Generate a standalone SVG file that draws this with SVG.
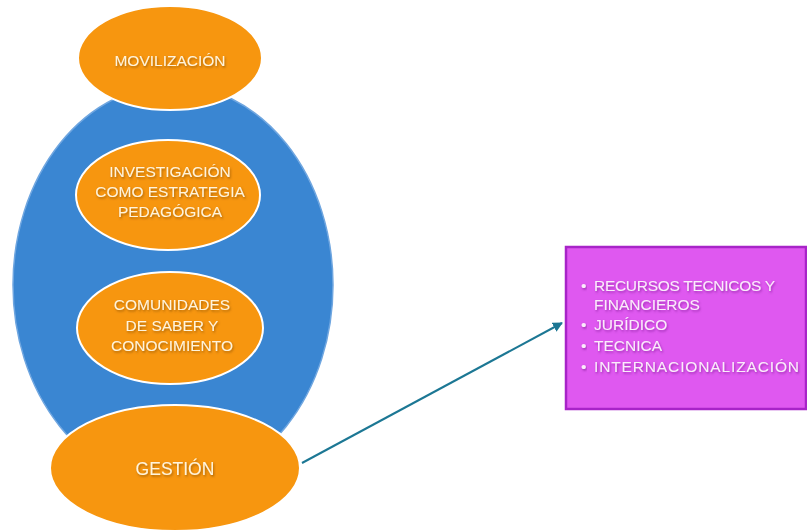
<svg xmlns="http://www.w3.org/2000/svg" width="807" height="531" viewBox="0 0 807 531">
<defs>
<filter id="ts" x="-10%" y="-30%" width="120%" height="160%">
<feDropShadow dx="1" dy="1.5" stdDeviation="1" flood-color="#6a3a00" flood-opacity="0.55"/>
</filter>
<filter id="tsp" x="-10%" y="-30%" width="120%" height="160%">
<feDropShadow dx="1" dy="1.5" stdDeviation="1" flood-color="#5a1070" flood-opacity="0.5"/>
</filter>
<marker id="ah" viewBox="0 0 10 10" refX="9" refY="5" markerWidth="5" markerHeight="5" orient="auto">
<path d="M0,0 L10,5 L0,10 z" fill="#1c7794"/>
</marker>
</defs>
<style>
.orange{fill:#f7960f;stroke:#ffffff;stroke-width:2}
.lbl{font-family:"Liberation Sans","DejaVu Sans",sans-serif;font-size:15.5px;fill:#fff4dc;text-anchor:middle;filter:url(#ts)}
.lst{font-family:"Liberation Sans","DejaVu Sans",sans-serif;font-size:15.5px;fill:#fbecfb;filter:url(#tsp)}
</style>
<rect width="807" height="531" fill="#ffffff"/>
<g id="container">
<ellipse cx="173" cy="285" rx="160" ry="200" fill="#3a86d2" stroke="#6fa6e0" stroke-width="1.5"/>
</g>
<g id="movilizacion">
<ellipse class="orange" cx="170" cy="58" rx="92" ry="52"/>
<text class="lbl" x="170" y="66">MOVILIZACIÓN</text>
</g>
<g id="investigacion">
<ellipse class="orange" cx="168" cy="195" rx="92" ry="55"/>
<text class="lbl" x="170" y="177">INVESTIGACIÓN</text>
<text class="lbl" x="170" y="197">COMO ESTRATEGIA</text>
<text class="lbl" x="170" y="217">PEDAGÓGICA</text>
</g>
<g id="comunidades">
<ellipse class="orange" cx="170" cy="328" rx="93" ry="56"/>
<text class="lbl" x="172" y="310">COMUNIDADES</text>
<text class="lbl" x="172" y="331">DE SABER Y</text>
<text class="lbl" x="172" y="351">CONOCIMIENTO</text>
</g>
<g id="gestion">
<ellipse class="orange" cx="175" cy="468" rx="125" ry="63"/>
<text class="lbl" x="175" y="475" style="font-size:17.5px">GESTIÓN</text>
</g>
<g id="connectors">
<line x1="302" y1="463" x2="562" y2="323" stroke="#1c7794" stroke-width="2" marker-end="url(#ah)"/>
</g>
<g id="recursos">
<rect x="566" y="247" width="240" height="162" fill="#df58f0" stroke="#a824c8" stroke-width="2.5"/>
<text class="lst" x="581" y="291">•</text>
<text class="lst" x="594" y="291" textLength="181">RECURSOS TECNICOS Y</text>
<text class="lst" x="594" y="310">FINANCIEROS</text>
<text class="lst" x="581" y="330">•</text>
<text class="lst" x="594" y="330">JURÍDICO</text>
<text class="lst" x="581" y="351">•</text>
<text class="lst" x="594" y="351">TECNICA</text>
<text class="lst" x="581" y="372">•</text>
<text class="lst" x="594" y="372" textLength="205">INTERNACIONALIZACIÓN</text>
</g>
</svg>
